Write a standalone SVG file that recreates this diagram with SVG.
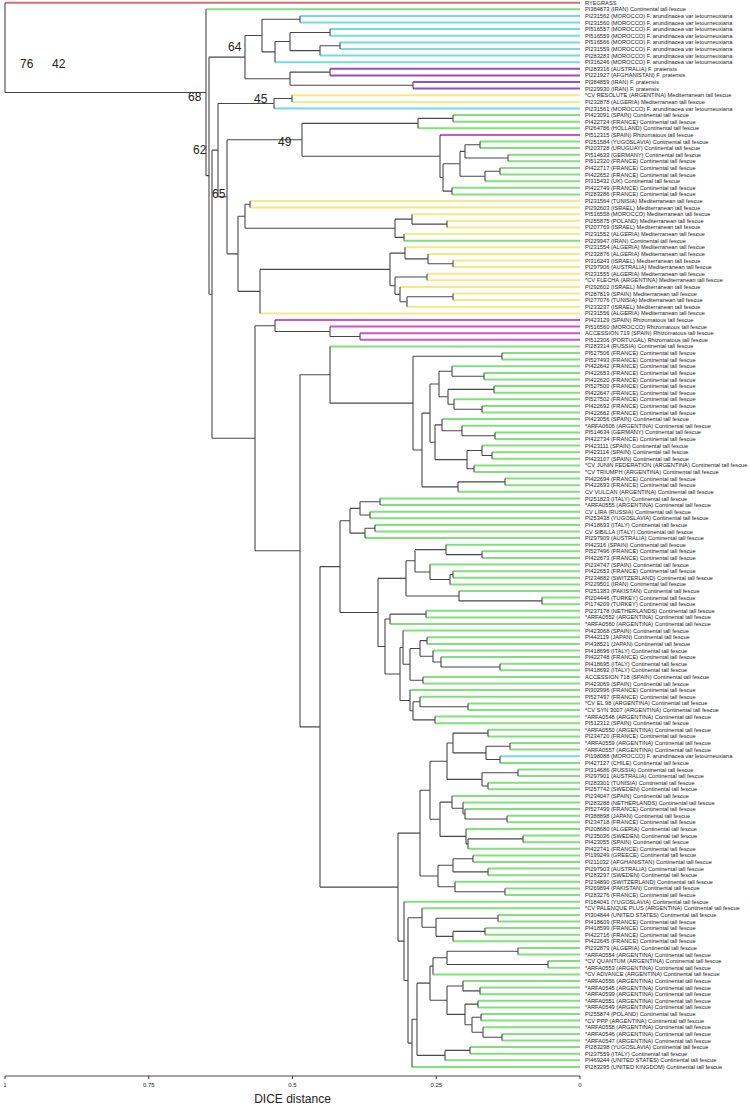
<svg xmlns="http://www.w3.org/2000/svg" width="750" height="1107" viewBox="0 0 750 1107">
<style>
.br{fill:none;stroke:#484848;stroke-width:1.1}
.lf{fill:none;stroke-width:2}
.rye{stroke:#d07070}.cont{stroke:#80e07a}.let{stroke:#74dcdc}.prat{stroke:#9652b8}.med{stroke:#f3ea84}.rhiz{stroke:#cc55cc}
.lb{font-family:"Liberation Sans",Arial,sans-serif;font-size:5.7px;fill:#222}
.bs{font-family:"Liberation Sans",Arial,sans-serif;font-size:12px;fill:#222}
.ax{font-family:"Liberation Sans",Arial,sans-serif;font-size:6px;fill:#222;text-anchor:middle}
.at{font-family:"Liberation Sans",Arial,sans-serif;font-size:12px;fill:#222;text-anchor:middle}
</style>
<rect width="750" height="1107" fill="#fff"/>
<g id="connectors">
<path class="lf rye" d="M5 2.7H580"/>
<path class="lf let" d="M300 15.9H580M300 22.5H580M330 29.1H580M330 35.8H580M340 42.4H580M340 49H580M320 55.6H580M275 62.2H580M274 108.5H580M500 756.2H580"/>
<path class="lf prat" d="M330 68.8H580M330 75.4H580M413 82H580M413 88.6H580"/>
<path class="lf med" d="M292 95.2H580M292 101.9H580M250 201H580M250 207.6H580M412 214.2H580M447 220.8H580M447 227.4H580M404 234.1H580M405 247.3H580M428 253.9H580M453 260.5H580M453 267.1H580M427 273.7H580M427 280.3H580M400 286.9H580M453 293.5H580M453 300.1H580M407 306.8H580M260 313.4H580"/>
<path class="lf rhiz" d="M440 134.9H580M275 320H580M330 326.6H580M360 333.2H580M360 339.8H580"/>
<path class="lf cont" d="M206 9.3H580M453 115.1H580M453 121.7H580M418 128.3H580M480 141.5H580M480 148.1H580M508 154.7H580M508 161.3H580M500 168H580M500 174.6H580M485 181.2H580M452 187.8H580M452 194.4H580M404 240.7H580M330 346.4H580M502 353H580M502 359.6H580M452 366.3H580M484 372.9H580M484 379.5H580M494 386.1H580M494 392.7H580M454 399.3H580M482 405.9H580M482 412.5H580M442 419.1H580M462 425.7H580M495 432.4H580M495 439H580M482 445.6H580M492 452.2H580M492 458.8H580M474 465.4H580M474 472H580M505 478.6H580M505 485.2H580M458 491.8H580M380 498.5H580M380 505.1H580M370 511.7H580M370 518.3H580M375 524.9H580M375 531.5H580M365 538.1H580M446 544.7H580M482 551.3H580M482 557.9H580M430 564.6H580M453 571.2H580M453 577.8H580M450 584.4H580M459 591H580M542 597.6H580M542 604.2H580M426 610.8H580M426 617.4H580M390 624H580M403 630.6H580M427 637.3H580M427 643.9H580M433 650.5H580M441 657.1H580M500 663.7H580M500 670.3H580M423 676.9H580M423 683.5H580M410 690.1H580M420 696.8H580M468 703.4H580M468 710H580M435 716.6H580M435 723.2H580M488 729.8H580M488 736.4H580M510 743H580M510 749.6H580M500 762.9H580M518 769.5H580M518 776.1H580M488 782.7H580M488 789.3H580M452 795.9H580M463 802.5H580M465 809.1H580M507 815.7H580M507 822.3H580M466 829H580M523 835.6H580M523 842.2H580M468 848.8H580M473 855.4H580M473 862H580M488 868.6H580M488 875.2H580M455 881.8H580M505 888.4H580M505 895.1H580M404 901.7H580M422 908.3H580M498 914.9H580M498 921.5H580M485 928.1H580M485 934.7H580M453 941.3H580M518 947.9H580M518 954.5H580M548 961.1H580M548 967.8H580M433 974.4H580M463 981H580M480 987.6H580M480 994.2H580M478 1000.8H580M478 1007.4H580M481 1014H580M481 1020.6H580M483 1027.2H580M502 1033.9H580M502 1040.5H580M470 1047.1H580M470 1053.7H580M445 1060.3H580M412 1066.9H580"/>
<path class="br" d="M5 2.7V92.5M5 92.5H206M206 9.3V175.67M206 175.67H209M209 57.13V294.2M209 57.13H245M209 294.2H212M245 35.55V78.7M245 35.55H262M245 78.7H290M262 19.2V51.9M262 19.2H300M262 51.9H275M300 15.9V22.5M275 41.55V62.2M275 41.55H290M290 32.45V50.65M290 32.45H330M290 50.65H320M330 29.1V35.8M320 45.7V55.6M320 45.7H340M340 42.4V49M290 72.1V85.3M290 72.1H330M290 85.3H413M330 68.8V75.4M413 82V88.6"/>
<path class="br" d="M212 150.15V438.3M212 150.15H218M212 438.3H255M218 103.5V196.8M218 103.5H274M218 196.8H227M274 98.55V108.5M274 98.55H292M292 95.2V101.9M227 139.8V253.85M227 139.8H302M227 253.85H238M302 123.35V156.2M302 123.35H418M302 156.2H440M418 118.4V128.3M418 118.4H453M453 115.1V121.7M440 134.9V177.45M440 177.45H443M443 163.8V191.1M443 163.8H460M443 191.1H452M460 151.4V176.25M460 151.4H465M460 176.25H485M465 144.8V158M465 144.8H480M465 158H508M480 141.5V148.1M508 154.7V161.3M485 171.3V181.2M485 171.3H500M500 168V174.6M452 187.8V194.4"/>
<path class="br" d="M238 216.3V291.4M238 216.3H245M238 291.4H260M245 204.3V228.3M245 204.3H250M245 228.3H395M250 201V207.6M395 219.15V237.4M395 219.15H412M395 237.4H404M412 214.2V224.1M412 224.1H447M447 220.8V227.4M404 234.1V240.7M260 269.4V313.4M260 269.4H390M390 253.1V285.7M390 253.1H405M390 285.7H395M405 247.3V258.85M405 258.85H428M428 253.9V263.8M428 263.8H453M453 260.5V267.1M395 277V294.35M395 277H427M395 294.35H400M427 273.7V280.3M400 286.9V301.8M400 301.8H407M407 296.8V306.8M407 296.8H453M453 293.5V300.1"/>
<path class="br" d="M255 325.8V550.8M255 325.8H275M255 550.8H300M275 320V331.55M275 331.55H330M330 326.6V336.5M330 336.5H360M360 333.2V339.8M300 374.8V726.85M300 374.8H330M300 726.85H320M330 346.4V403.15M330 403.15H413M413 356.3V450M413 356.3H502M413 450H422M502 353V359.6M422 413.1V486.85M422 413.1H430M422 486.85H458M430 384V442.25M430 384H439M430 442.25H435M439 371.25V396.8M439 371.25H452M439 396.8H448M452 366.3V376.2M452 376.2H484M484 372.9V379.5M448 389.4V404.25M448 389.4H494M448 404.25H454M494 386.1V392.7M454 399.3V409.2M454 409.2H482M482 405.9V412.5M435 424.9V459.6M435 424.9H442M435 459.6H467M442 419.1V430.7M442 430.7H462M462 425.7V435.7M462 435.7H495M495 432.4V439M467 450.55V468.7M467 450.55H482M467 468.7H474M482 445.6V455.5M482 455.5H492M492 452.2V458.8M474 465.4V472M458 481.9V491.8M458 481.9H505M505 478.6V485.2"/>
<path class="br" d="M320 566.6V887.1M320 566.6H340M320 887.1H398M340 520.8V612.45M340 520.8H350M340 612.45H378M350 508.4V533.15M350 508.4H360M350 533.15H365M360 501.8V515M360 501.8H380M360 515H370M380 498.5V505.1M370 511.7V518.3M365 528.2V538.1M365 528.2H375M375 524.9V531.5M378 578.4V646.5M378 578.4H406M378 646.5H385M406 560.8V595.95M406 560.8H415M406 595.95H459M415 549.65V572M415 549.65H446M415 572H430M446 544.7V554.6M446 554.6H482M482 551.3V557.9M430 564.6V579.45M430 579.45H450M450 574.5V584.4M450 574.5H453M453 571.2V577.8M459 591V600.9M459 600.9H542M542 597.6V604.2"/>
<path class="br" d="M385 619.05V673.95M385 619.05H390M385 673.95H400M390 614.1V624M390 614.1H426M426 610.8V617.4M400 647.45V700.45M400 647.45H403M400 700.45H410M403 630.6V664.3M403 664.3H410M410 648.45V680.2M410 648.45H420M410 680.2H423M420 640.6V656.3M420 640.6H427M420 656.3H433M427 637.3V643.9M433 650.5V662.05M433 662.05H441M441 657.1V667M441 667H500M500 663.7V670.3M423 676.9V683.5M410 690.1V710.8M410 710.8H413M413 701.75V719.9M413 701.75H420M413 719.9H435M420 696.8V706.7M420 706.7H468M468 703.4V710M435 716.6V723.2"/>
<path class="br" d="M398 833.1V941.1M398 833.1H420M398 941.1H404M420 790.2V876.05M420 790.2H430M420 876.05H438M430 761.2V819.25M430 761.2H447M430 819.25H440M447 743V779.4M447 743H453M447 779.4H482M453 733.1V752.9M453 733.1H488M453 752.9H486M488 729.8V736.4M486 746.3V759.55M486 746.3H510M486 759.55H500M510 743V749.6M500 756.2V762.9M482 772.8V786M482 772.8H518M482 786H488M518 769.5V776.1M488 782.7V789.3M440 802.1V836.4M440 802.1H452M440 836.4H466M452 795.9V808.3M452 808.3H463M463 802.5V814.05M463 814.05H465M465 809.1V819M465 819H507M507 815.7V822.3M466 829V843.85M466 843.85H468M468 838.9V848.8M468 838.9H523M523 835.6V842.2M438 865.3V886.8M438 865.3H453M438 886.8H455M453 858.7V871.9M453 858.7H473M453 871.9H488M473 855.4V862M488 868.6V875.2M455 881.8V891.75M455 891.75H505M505 888.4V895.1"/>
<path class="br" d="M404 901.7V980.45M404 980.45H408M408 917.8V1043.1M408 917.8H422M408 1043.1H412M422 908.3V927.3M422 927.3H436M436 918.2V936.35M436 918.2H498M436 936.35H453M498 914.9V921.5M453 931.4V941.3M453 931.4H485M485 928.1V934.7M412 1019.25V1066.9M412 1019.25H417M417 983.15V1055.35M417 983.15H430M417 1055.35H445M430 966.1V1000.2M430 966.1H433M430 1000.2H447M433 957.8V974.4M433 957.8H447M447 951.2V964.45M447 951.2H518M447 964.45H548M518 947.9V954.5M548 961.1V967.8M447 985.95V1014.4M447 985.95H463M447 1014.4H465M463 981V990.9M463 990.9H480M480 987.6V994.2M465 1004.1V1024.75M465 1004.1H478M465 1024.75H472M478 1000.8V1007.4M472 1017.3V1032.2M472 1017.3H481M472 1032.2H483M481 1014V1020.6M483 1027.2V1037.2M483 1037.2H502M502 1033.9V1040.5M445 1050.4V1060.3M445 1050.4H470M470 1047.1V1053.7"/>
</g>
<g id="bootstrap">
<text class="bs" x="20" y="68">76</text>
<text class="bs" x="52" y="68">42</text>
<text class="bs" x="228" y="51">64</text>
<text class="bs" x="188" y="101">68</text>
<text class="bs" x="254" y="103">45</text>
<text class="bs" x="193" y="154">62</text>
<text class="bs" x="278" y="146">49</text>
<text class="bs" x="212" y="198">65</text>
</g>
<g id="leaves">
<g id="leaf-0"><text class="lb" x="585" y="4.7">RYEGRASS</text></g>
<g id="leaf-1"><text class="lb" x="585" y="11.3">PI384873 (IRAN) Continental tall fescue</text></g>
<g id="leaf-2"><text class="lb" x="585" y="17.9">PI231562 (MOROCCO) F. arundinacea var letourneuxiana</text></g>
<g id="leaf-3"><text class="lb" x="585" y="24.5">PI231560 (MOROCCO) F. arundinacea var letourneuxiana</text></g>
<g id="leaf-4"><text class="lb" x="585" y="31.1">PI516557 (MOROCCO) F. arundinacea var letourneuxiana</text></g>
<g id="leaf-5"><text class="lb" x="585" y="37.8">PI516559 (MOROCCO) F. arundinacea var letourneuxiana</text></g>
<g id="leaf-6"><text class="lb" x="585" y="44.4">PI516566 (MOROCCO) F. arundinacea var letourneuxiana</text></g>
<g id="leaf-7"><text class="lb" x="585" y="51">PI231559 (MOROCCO) F. arundinacea var letourneuxiana</text></g>
<g id="leaf-8"><text class="lb" x="585" y="57.6">PI283283 (MOROCCO) F. arundinacea var letourneuxiana</text></g>
<g id="leaf-9"><text class="lb" x="585" y="64.2">PI316246 (MOROCCO) F. arundinacea var letourneuxiana</text></g>
<g id="leaf-10"><text class="lb" x="585" y="70.8">PI283316 (AUSTRALIA) F. pratensis</text></g>
<g id="leaf-11"><text class="lb" x="585" y="77.4">PI221927 (AFGHANISTAN) F. pratensis</text></g>
<g id="leaf-12"><text class="lb" x="585" y="84">PI384859 (IRAN) F. pratensis</text></g>
<g id="leaf-13"><text class="lb" x="585" y="90.6">PI229930 (IRAN) F. pratensis</text></g>
<g id="leaf-14"><text class="lb" x="585" y="97.2">*CV RESOLUTE (ARGENTINA) Mediterranean tall fescue</text></g>
<g id="leaf-15"><text class="lb" x="585" y="103.9">PI232878 (ALGERIA) Mediterranean tall fescue</text></g>
<g id="leaf-16"><text class="lb" x="585" y="110.5">PI231561 (MOROCCO) F. arundinacea var letourneuxiana</text></g>
<g id="leaf-17"><text class="lb" x="585" y="117.1">PI423091 (SPAIN) Continental tall fescue</text></g>
<g id="leaf-18"><text class="lb" x="585" y="123.7">PI422724 (FRANCE) Continental tall fescue</text></g>
<g id="leaf-19"><text class="lb" x="585" y="130.3">PI264786 (HOLLAND) Continental tall fescue</text></g>
<g id="leaf-20"><text class="lb" x="585" y="136.9">PI512315 (SPAIN) Rhizomatous tall fescue</text></g>
<g id="leaf-21"><text class="lb" x="585" y="143.5">PI251584 (YUGOSLAVIA) Continental tall fescue</text></g>
<g id="leaf-22"><text class="lb" x="585" y="150.1">PI203728 (URUGUAY) Continental tall fescue</text></g>
<g id="leaf-23"><text class="lb" x="585" y="156.7">PI514633 (GERMANY) Continental tall fescue</text></g>
<g id="leaf-24"><text class="lb" x="585" y="163.3">PI512320 (FRANCE) Continental tall fescue</text></g>
<g id="leaf-25"><text class="lb" x="585" y="170">PI422717 (FRANCE) Continental tall fescue</text></g>
<g id="leaf-26"><text class="lb" x="585" y="176.6">PI422652 (FRANCE) Continental tall fescue</text></g>
<g id="leaf-27"><text class="lb" x="585" y="183.2">PI315432 (UK) Continental tall fescue</text></g>
<g id="leaf-28"><text class="lb" x="585" y="189.8">PI422749 (FRANCE) Continental tall fescue</text></g>
<g id="leaf-29"><text class="lb" x="585" y="196.4">PI283286 (FRANCE) Continental tall fescue</text></g>
<g id="leaf-30"><text class="lb" x="585" y="203">PI231564 (TUNISIA) Mediterranean tall fescue</text></g>
<g id="leaf-31"><text class="lb" x="585" y="209.6">PI292603 (ISRAEL) Mediterranean tall fescue</text></g>
<g id="leaf-32"><text class="lb" x="585" y="216.2">PI516558 (MOROCCO) Mediterranean tall fescue</text></g>
<g id="leaf-33"><text class="lb" x="585" y="222.8">PI255875 (POLAND) Mediterranean tall fescue</text></g>
<g id="leaf-34"><text class="lb" x="585" y="229.4">PI207769 (ISRAEL) Mediterranean tall fescue</text></g>
<g id="leaf-35"><text class="lb" x="585" y="236.1">PI231552 (ALGERIA) Mediterranean tall fescue</text></g>
<g id="leaf-36"><text class="lb" x="585" y="242.7">PI229947 (IRAN) Continental tall fescue</text></g>
<g id="leaf-37"><text class="lb" x="585" y="249.3">PI231554 (ALGERIA) Mediterranean tall fescue</text></g>
<g id="leaf-38"><text class="lb" x="585" y="255.9">PI232876 (ALGERIA) Mediterranean tall fescue</text></g>
<g id="leaf-39"><text class="lb" x="585" y="262.5">PI316243 (ISRAEL) Mediterranean tall fescue</text></g>
<g id="leaf-40"><text class="lb" x="585" y="269.1">PI297906 (AUSTRALIA) Mediterranean tall fescue</text></g>
<g id="leaf-41"><text class="lb" x="585" y="275.7">PI231555 (ALGERIA) Mediterranean tall fescue</text></g>
<g id="leaf-42"><text class="lb" x="585" y="282.3">*CV FLECHA (ARGENTINA) Mediterranean tall fescue</text></g>
<g id="leaf-43"><text class="lb" x="585" y="288.9">PI292602 (ISRAEL) Mediterranean tall fescue</text></g>
<g id="leaf-44"><text class="lb" x="585" y="295.5">PI287819 (SPAIN) Mediterranean tall fescue</text></g>
<g id="leaf-45"><text class="lb" x="585" y="302.1">PI277076 (TUNISIA) Mediterranean tall fescue</text></g>
<g id="leaf-46"><text class="lb" x="585" y="308.8">PI233237 (ISRAEL) Mediterranean tall fescue</text></g>
<g id="leaf-47"><text class="lb" x="585" y="315.4">PI231556 (ALGERIA) Mediterranean tall fescue</text></g>
<g id="leaf-48"><text class="lb" x="585" y="322">PI423129 (SPAIN) Rhizomatous tall fescue</text></g>
<g id="leaf-49"><text class="lb" x="585" y="328.6">PI516560 (MOROCCO) Rhizomatous tall fescue</text></g>
<g id="leaf-50"><text class="lb" x="585" y="335.2">ACCESSION 719 (SPAIN) Rhizomatous tall fescue</text></g>
<g id="leaf-51"><text class="lb" x="585" y="341.8">PI512306 (PORTUGAL) Rhizomatous tall fescue</text></g>
<g id="leaf-52"><text class="lb" x="585" y="348.4">PI283314 (RUSSIA) Continental tall fescue</text></g>
<g id="leaf-53"><text class="lb" x="585" y="355">PI527506 (FRANCE) Continental tall fescue</text></g>
<g id="leaf-54"><text class="lb" x="585" y="361.6">PI527493 (FRANCE) Continental tall fescue</text></g>
<g id="leaf-55"><text class="lb" x="585" y="368.3">PI422642 (FRANCE) Continental tall fescue</text></g>
<g id="leaf-56"><text class="lb" x="585" y="374.9">PI422653 (FRANCE) Continental tall fescue</text></g>
<g id="leaf-57"><text class="lb" x="585" y="381.5">PI422620 (FRANCE) Continental tall fescue</text></g>
<g id="leaf-58"><text class="lb" x="585" y="388.1">PI527500 (FRANCE) Continental tall fescue</text></g>
<g id="leaf-59"><text class="lb" x="585" y="394.7">PI422647 (FRANCE) Continental tall fescue</text></g>
<g id="leaf-60"><text class="lb" x="585" y="401.3">PI527502 (FRANCE) Continental tall fescue</text></g>
<g id="leaf-61"><text class="lb" x="585" y="407.9">PI422692 (FRANCE) Continental tall fescue</text></g>
<g id="leaf-62"><text class="lb" x="585" y="414.5">PI422662 (FRANCE) Continental tall fescue</text></g>
<g id="leaf-63"><text class="lb" x="585" y="421.1">PI423056 (SPAIN) Continental tall fescue</text></g>
<g id="leaf-64"><text class="lb" x="585" y="427.7">*ARFA0606 (ARGENTINA) Continental tall fescue</text></g>
<g id="leaf-65"><text class="lb" x="585" y="434.4">PI514634 (GERMANY) Continental tall fescue</text></g>
<g id="leaf-66"><text class="lb" x="585" y="441">PI422734 (FRANCE) Continental tall fescue</text></g>
<g id="leaf-67"><text class="lb" x="585" y="447.6">PI423111 (SPAIN) Continental tall fescue</text></g>
<g id="leaf-68"><text class="lb" x="585" y="454.2">PI423114 (SPAIN) Continental tall fescue</text></g>
<g id="leaf-69"><text class="lb" x="585" y="460.8">PI423107 (SPAIN) Continental tall fescue</text></g>
<g id="leaf-70"><text class="lb" x="585" y="467.4">*CV JUNIN FEDERATION (ARGENTINA) Continental tall fescue</text></g>
<g id="leaf-71"><text class="lb" x="585" y="474">*CV TRIUMPH (ARGENTINA) Continental tall fescue</text></g>
<g id="leaf-72"><text class="lb" x="585" y="480.6">PI422694 (FRANCE) Continental tall fescue</text></g>
<g id="leaf-73"><text class="lb" x="585" y="487.2">PI422693 (FRANCE) Continental tall fescue</text></g>
<g id="leaf-74"><text class="lb" x="585" y="493.8">CV VULCAN (ARGENTINA) Continental tall fescue</text></g>
<g id="leaf-75"><text class="lb" x="585" y="500.5">PI251823 (ITALY) Continental tall fescue</text></g>
<g id="leaf-76"><text class="lb" x="585" y="507.1">*ARFA0555 (ARGENTINA) Continental tall fescue</text></g>
<g id="leaf-77"><text class="lb" x="585" y="513.7">CV LIRA (RUSSIA) Continental tall fescue</text></g>
<g id="leaf-78"><text class="lb" x="585" y="520.3">PI253438 (YUGOSLAVIA) Continental tall fescue</text></g>
<g id="leaf-79"><text class="lb" x="585" y="526.9">PI418693 (ITALY) Continental tall fescue</text></g>
<g id="leaf-80"><text class="lb" x="585" y="533.5">CV SIBILLA (ITALY) Continental tall fescue</text></g>
<g id="leaf-81"><text class="lb" x="585" y="540.1">PI297909 (AUSTRALIA) Continental tall fescue</text></g>
<g id="leaf-82"><text class="lb" x="585" y="546.7">PI42316 (SPAIN) Continental tall fescue</text></g>
<g id="leaf-83"><text class="lb" x="585" y="553.3">PI527496 (FRANCE) Continental tall fescue</text></g>
<g id="leaf-84"><text class="lb" x="585" y="559.9">PI422673 (FRANCE) Continental tall fescue</text></g>
<g id="leaf-85"><text class="lb" x="585" y="566.6">PI234747 (SPAIN) Continental tall fescue</text></g>
<g id="leaf-86"><text class="lb" x="585" y="573.2">PI422653 (FRANCE) Continental tall fescue</text></g>
<g id="leaf-87"><text class="lb" x="585" y="579.8">PI234882 (SWITZERLAND) Continental tall fescue</text></g>
<g id="leaf-88"><text class="lb" x="585" y="586.4">PI229501 (IRAN) Continental tall fescue</text></g>
<g id="leaf-89"><text class="lb" x="585" y="593">PI251383 (PAKISTAN) Continental tall fescue</text></g>
<g id="leaf-90"><text class="lb" x="585" y="599.6">PI204446 (TURKEY) Continental tall fescue</text></g>
<g id="leaf-91"><text class="lb" x="585" y="606.2">PI174209 (TURKEY) Continental tall fescue</text></g>
<g id="leaf-92"><text class="lb" x="585" y="612.8">PI237178 (NETHERLANDS) Continental tall fescue</text></g>
<g id="leaf-93"><text class="lb" x="585" y="619.4">*ARFA0552 (ARGENTINA) Continental tall fescue</text></g>
<g id="leaf-94"><text class="lb" x="585" y="626">*ARFA0560 (ARGENTINA) Continental tall fescue</text></g>
<g id="leaf-95"><text class="lb" x="585" y="632.6">PI423068 (SPAIN) Continental tall fescue</text></g>
<g id="leaf-96"><text class="lb" x="585" y="639.3">PI442119 (JAPAN) Continental tall fescue</text></g>
<g id="leaf-97"><text class="lb" x="585" y="645.9">PI438521 (JAPAN) Continental tall fescue</text></g>
<g id="leaf-98"><text class="lb" x="585" y="652.5">PI418696 (ITALY) Continental tall fescue</text></g>
<g id="leaf-99"><text class="lb" x="585" y="659.1">PI422748 (FRANCE) Continental tall fescue</text></g>
<g id="leaf-100"><text class="lb" x="585" y="665.7">PI418695 (ITALY) Continental tall fescue</text></g>
<g id="leaf-101"><text class="lb" x="585" y="672.3">PI418692 (ITALY) Continental tall fescue</text></g>
<g id="leaf-102"><text class="lb" x="585" y="678.9">ACCESSION 718 (SPAIN) Continental tall fescue</text></g>
<g id="leaf-103"><text class="lb" x="585" y="685.5">PI423069 (SPAIN) Continental tall fescue</text></g>
<g id="leaf-104"><text class="lb" x="585" y="692.1">PI302996 (FRANCE) Continental tall fescue</text></g>
<g id="leaf-105"><text class="lb" x="585" y="698.8">PI527497 (FRANCE) Continental tall fescue</text></g>
<g id="leaf-106"><text class="lb" x="585" y="705.4">*CV EL 98 (ARGENTINA) Continental tall fescue</text></g>
<g id="leaf-107"><text class="lb" x="585" y="712">*CV SYN 3007 (ARGENTINA) Continental tall fescue</text></g>
<g id="leaf-108"><text class="lb" x="585" y="718.6">*ARFA0548 (ARGENTINA) Continental tall fescue</text></g>
<g id="leaf-109"><text class="lb" x="585" y="725.2">PI512312 (SPAIN) Continental tall fescue</text></g>
<g id="leaf-110"><text class="lb" x="585" y="731.8">*ARFA0550 (ARGENTINA) Continental tall fescue</text></g>
<g id="leaf-111"><text class="lb" x="585" y="738.4">PI234720 (FRANCE) Continental tall fescue</text></g>
<g id="leaf-112"><text class="lb" x="585" y="745">*ARFA0559 (ARGENTINA) Continental tall fescue</text></g>
<g id="leaf-113"><text class="lb" x="585" y="751.6">*ARFA0557 (ARGENTINA) Continental tall fescue</text></g>
<g id="leaf-114"><text class="lb" x="585" y="758.2">PI198088 (MOROCCO) F. arundinacea var letourneuxiana</text></g>
<g id="leaf-115"><text class="lb" x="585" y="764.9">PI427127 (CHILE) Continental tall fescue</text></g>
<g id="leaf-116"><text class="lb" x="585" y="771.5">PI314686 (RUSSIA) Continental tall fescue</text></g>
<g id="leaf-117"><text class="lb" x="585" y="778.1">PI297901 (AUSTRALIA) Continental tall fescue</text></g>
<g id="leaf-118"><text class="lb" x="585" y="784.7">PI283301 (TUNISIA) Continental tall fescue</text></g>
<g id="leaf-119"><text class="lb" x="585" y="791.3">PI257742 (SWEDEN) Continental tall fescue</text></g>
<g id="leaf-120"><text class="lb" x="585" y="797.9">PI234047 (SPAIN) Continental tall fescue</text></g>
<g id="leaf-121"><text class="lb" x="585" y="804.5">PI283288 (NETHERLANDS) Continental tall fescue</text></g>
<g id="leaf-122"><text class="lb" x="585" y="811.1">PI527499 (FRANCE) Continental tall fescue</text></g>
<g id="leaf-123"><text class="lb" x="585" y="817.7">PI388898 (JAPAN) Continental tall fescue</text></g>
<g id="leaf-124"><text class="lb" x="585" y="824.3">PI234718 (FRANCE) Continental tall fescue</text></g>
<g id="leaf-125"><text class="lb" x="585" y="831">PI208680 (ALGERIA) Continental tall fescue</text></g>
<g id="leaf-126"><text class="lb" x="585" y="837.6">PI235036 (SWEDEN) Continental tall fescue</text></g>
<g id="leaf-127"><text class="lb" x="585" y="844.2">PI423055 (SPAIN) Continental tall fescue</text></g>
<g id="leaf-128"><text class="lb" x="585" y="850.8">PI422741 (FRANCE) Continental tall fescue</text></g>
<g id="leaf-129"><text class="lb" x="585" y="857.4">PI199249 (GREECE) Continental tall fescue</text></g>
<g id="leaf-130"><text class="lb" x="585" y="864">PI211032 (AFGHANISTAN) Continental tall fescue</text></g>
<g id="leaf-131"><text class="lb" x="585" y="870.6">PI297903 (AUSTRALIA) Continental tall fescue</text></g>
<g id="leaf-132"><text class="lb" x="585" y="877.2">PI283297 (SWEDEN) Continental tall fescue</text></g>
<g id="leaf-133"><text class="lb" x="585" y="883.8">PI234890 (SWITZERLAND) Continental tall fescue</text></g>
<g id="leaf-134"><text class="lb" x="585" y="890.4">PI269894 (PAKISTAN) Continental tall fescue</text></g>
<g id="leaf-135"><text class="lb" x="585" y="897.1">PI283276 (FRANCE) Continental tall fescue</text></g>
<g id="leaf-136"><text class="lb" x="585" y="903.7">PI184041 (YUGOSLAVIA) Continental tall fescue</text></g>
<g id="leaf-137"><text class="lb" x="585" y="910.3">*CV PALENQUE PLUS (ARGENTINA) Continental tall fescue</text></g>
<g id="leaf-138"><text class="lb" x="585" y="916.9">PI304844 (UNITED STATES) Continental tall fescue</text></g>
<g id="leaf-139"><text class="lb" x="585" y="923.5">PI418609 (FRANCE) Continental tall fescue</text></g>
<g id="leaf-140"><text class="lb" x="585" y="930.1">PI418599 (FRANCE) Continental tall fescue</text></g>
<g id="leaf-141"><text class="lb" x="585" y="936.7">PI422716 (FRANCE) Continental tall fescue</text></g>
<g id="leaf-142"><text class="lb" x="585" y="943.3">PI422645 (FRANCE) Continental tall fescue</text></g>
<g id="leaf-143"><text class="lb" x="585" y="949.9">PI232879 (ALGERIA) Continental tall fescue</text></g>
<g id="leaf-144"><text class="lb" x="585" y="956.5">*ARFA0554 (ARGENTINA) Continental tall fescue</text></g>
<g id="leaf-145"><text class="lb" x="585" y="963.1">*CV QUANTUM (ARGENTINA) Continental tall fescue</text></g>
<g id="leaf-146"><text class="lb" x="585" y="969.8">*ARFA0553 (ARGENTINA) Continental tall fescue</text></g>
<g id="leaf-147"><text class="lb" x="585" y="976.4">*CV ADVANCE (ARGENTINA) Continental tall fescue</text></g>
<g id="leaf-148"><text class="lb" x="585" y="983">*ARFA0556 (ARGENTINA) Continental tall fescue</text></g>
<g id="leaf-149"><text class="lb" x="585" y="989.6">*ARFA0545 (ARGENTINA) Continental tall fescue</text></g>
<g id="leaf-150"><text class="lb" x="585" y="996.2">*ARFA0599 (ARGENTINA) Continental tall fescue</text></g>
<g id="leaf-151"><text class="lb" x="585" y="1002.8">*ARFA0551 (ARGENTINA) Continental tall fescue</text></g>
<g id="leaf-152"><text class="lb" x="585" y="1009.4">*ARFA0549 (ARGENTINA) Continental tall fescue</text></g>
<g id="leaf-153"><text class="lb" x="585" y="1016">PI255874 (POLAND) Continental tall fescue</text></g>
<g id="leaf-154"><text class="lb" x="585" y="1022.6">*CV PPP (ARGENTINA) Continental tall fescue</text></g>
<g id="leaf-155"><text class="lb" x="585" y="1029.2">*ARFA0558 (ARGENTINA) Continental tall fescue</text></g>
<g id="leaf-156"><text class="lb" x="585" y="1035.9">*ARFA0546 (ARGENTINA) Continental tall fescue</text></g>
<g id="leaf-157"><text class="lb" x="585" y="1042.5">*ARFA0547 (ARGENTINA) Continental tall fescue</text></g>
<g id="leaf-158"><text class="lb" x="585" y="1049.1">PI283298 (YUGOSLAVIA) Continental tall fescue</text></g>
<g id="leaf-159"><text class="lb" x="585" y="1055.7">PI237559 (ITALY) Continental tall fescue</text></g>
<g id="leaf-160"><text class="lb" x="585" y="1062.3">PI469244 (UNITED STATES) Continental tall fescue</text></g>
<g id="leaf-161"><text class="lb" x="585" y="1068.9">PI283295 (UNITED KINGDOM) Continental tall fescue</text></g>
</g>
<g id="axis">
<path class="br" d="M5 1076H580M5 1076V1079M148.75 1076V1079M292.5 1076V1079M436.25 1076V1079M580 1076V1079"/>
<text class="ax" x="5" y="1087">1</text>
<text class="ax" x="148.75" y="1087">0.75</text>
<text class="ax" x="292.5" y="1087">0.5</text>
<text class="ax" x="436.25" y="1087">0.25</text>
<text class="ax" x="580" y="1087">0</text>
<text class="at" x="292.5" y="1103">DICE distance</text>
</g>
</svg>
